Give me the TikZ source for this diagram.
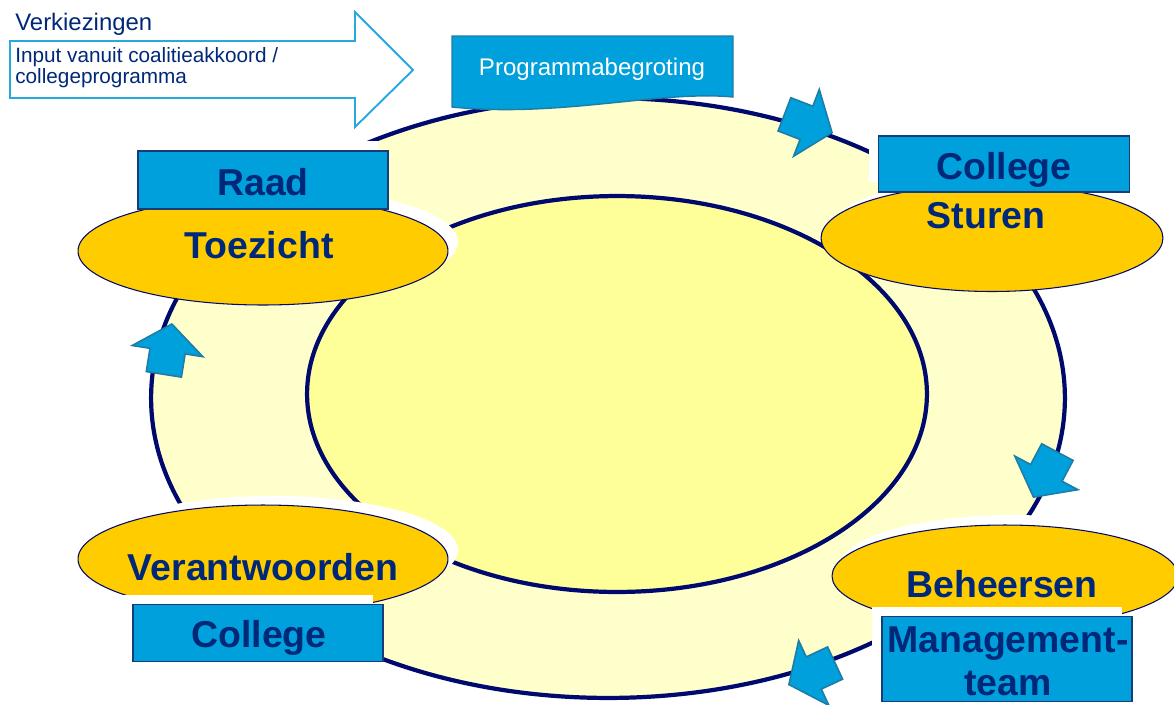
\documentclass[tikz,border=0pt]{standalone}
\usepackage{fontspec}
\setmainfont{Liberation Sans}
\usepackage{xcolor}
\usetikzlibrary{shapes.geometric,shapes.arrows,positioning}
\definecolor{navyText}{RGB}{0,40,120}
\definecolor{ringLine}{RGB}{0,10,110}
\definecolor{boxBlue}{RGB}{0,160,220}
\definecolor{boxEdge}{RGB}{23,60,120}
\definecolor{tealEdge}{RGB}{30,125,165}
\definecolor{goldFill}{RGB}{255,204,0}
\definecolor{outerFill}{RGB}{255,255,204}
\definecolor{innerFill}{RGB}{255,255,153}
\definecolor{skyEdge}{RGB}{41,168,224}
\tikzstyle{ring} = [ellipse, draw=ringLine, line width=2.4pt, inner sep=0]
\tikzstyle{goldEllipse} = [ellipse, draw=ringLine, line width=0.6pt, fill=goldFill, inner sep=0]
\tikzstyle{whiteGlow} = [ellipse, fill=white, inner sep=0]
\tikzstyle{blueBox} = [rectangle, draw=boxEdge, line width=0.8pt, fill=boxBlue, inner sep=0]
\tikzstyle{whiteBox} = [rectangle, fill=white, inner sep=0]
\tikzstyle{bigText} = [text=navyText, font=\fontsize{21.3}{24.4}\selectfont\bfseries, inner sep=0, anchor=base]
\tikzstyle{cycleArrow} = [single arrow, draw=tealEdge, line width=0.9pt, fill=boxBlue,
	minimum height=1.02cm, minimum width=1.42cm, single arrow head extend=0.36cm,
	single arrow tip angle=105, inner xsep=0, inner ysep=0.34cm, anchor=tip]

\begin{document}
\begin{tikzpicture}[x=0.02cm, y=-0.02cm]
		\useasboundingbox (0,0) rectangle (1174,704);
		% ringen
		\node[ring, fill=outerFill, minimum width=18.28cm, minimum height=12cm] (outer) at (608,398) {};
		\node[ring, fill=innerFill, minimum width=12.4cm, minimum height=7.92cm] (inner) at (617,394) {};
		
		% ellipsen met witte rand
		\node[whiteGlow, minimum width=7.4cm, minimum height=2.16cm] (toezicht-w) at (273,242) {};
		\node[whiteGlow, minimum width=6.84cm, minimum height=2.14cm] (sturen-w) at (1002,230) {};
		\node[whiteGlow, minimum width=7.4cm, minimum height=2.16cm] (verantw-w) at (273,550) {};
		\node[whiteGlow, minimum width=6.92cm, minimum height=2.04cm] (beheer-w) at (1013,566) {};
		\node[goldEllipse, minimum width=7.4cm, minimum height=2.16cm] (toezicht-e) at (263,251) {};
		\node[goldEllipse, minimum width=6.84cm, minimum height=2.14cm] (sturen-e) at (992,238) {};
		\node[goldEllipse, minimum width=7.4cm, minimum height=2.16cm] (verantw-e) at (263,559) {};
		\node[goldEllipse, minimum width=6.92cm, minimum height=2.04cm] (beheer-e) at (1005,576) {};
		
		% blauwe vakken
		\node[whiteBox, minimum width=5cm, minimum height=1.16cm] (raad-w) at (253,170) {};
		\node[whiteBox, minimum width=5.02cm, minimum height=1.12cm] (college1-w) at (994,154) {};
		\node[whiteBox, minimum width=5cm, minimum height=1.14cm] (college2-w) at (248,623) {};
		\node[whiteBox, minimum width=5cm, minimum height=1.7cm] (mt-w) at (997,649) {};
		\node[blueBox, minimum width=5cm, minimum height=1.16cm] (raad-b) at (263,180) {};
		\node[blueBox, minimum width=5.02cm, minimum height=1.12cm] (college1-b) at (1004,164) {};
		\node[blueBox, minimum width=5cm, minimum height=1.14cm] (college2-b) at (258,633) {};
		\node[blueBox, minimum width=5cm, minimum height=1.7cm] (mt-b) at (1007,659) {};
		
		% teksten
		\node[bigText] (raad) at (263,195) {Raad};
		\node[bigText] (toezicht) at (259,258) {Toezicht};
		\node[bigText] (college1) at (1004,179) {College};
		\node[bigText] (sturen) at (986,228) {Sturen};
		\node[bigText] (verantw) at (263,580) {Verantwoorden};
		\node[bigText] (college2) at (259,647) {College};
		\node[bigText] (beheer) at (1002,597) {Beheersen};
		\node[bigText] (mt1) at (1008,652) {Management-};
		\node[bigText] (mt2) at (1008,695) {team};
		
		% programmabegroting
		\draw[draw=tealEdge, line width=0.8pt, fill=boxBlue] (452,36) -- (733,36) -- (733,97)
			.. controls (660,90) and (560,118) .. (452,107) -- cycle;
		\node[text=white, font=\fontsize{13.7}{15}\selectfont, inner sep=0, anchor=base] (begroting) at (592,75) {Programmabegroting};
		
		% input pijl
		\draw[skyEdge, line width=1.1pt, fill=white] (10,41) -- (355,41) -- (355,12) -- (413,70)
			-- (355,127) -- (355,98) -- (10,98) -- cycle;
		\node[anchor=base west, text=navyText, font=\fontsize{13.6}{16}\selectfont, inner sep=0] (verkiezingen) at (15,30) {Verkiezingen};
		\node[anchor=north west, text=navyText, font=\fontsize{11.8}{11.9}\selectfont, inner sep=0, align=left] (input) at (15,47) {Input vanuit coalitieakkoord /\\collegeprogramma};
		
		% kleine pijlen langs de cyclus
		\node[cycleArrow, rotate=-21] (a1) at (833,133) {};
		\node[cycleArrow, rotate=-118] (a2) at (1033,498) {};
		\node[cycleArrow, rotate=-155] (a3) at (788,685) {};
		\node[cycleArrow, rotate=81] (a4) at (172,323) {};
		\end{tikzpicture}
\end{document}
